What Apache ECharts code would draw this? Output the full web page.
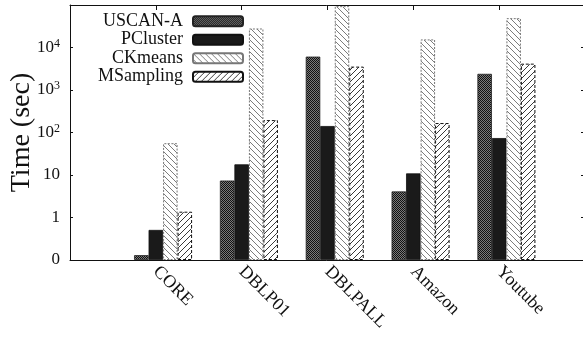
<!DOCTYPE html>
<html><head><meta charset="utf-8">
<script src="https://cdn.jsdelivr.net/npm/echarts@6/dist/echarts.min.js"></script>
<style>html,body{margin:0;padding:0;background:#fff}#c{width:583px;height:338px}</style>
</head><body><div id="c"></div>
<script>
const categories = ['CORE', 'DBLP01', 'DBLPALL', 'Amazon', 'Youtube'];
const uscanA    = [0.13, 7.4, 6100, 4.1, 2400];
const pcluster  = [0.51, 17.8, 142, 10.9, 74];
const ckmeans   = [56, 28000, 94000, 15500, 49000];
const msampling = [1.37, 196, 3550, 167, 4170];
const seriesNames = ['USCAN-A', 'PCluster', 'CKmeans', 'MSampling'];
const yTickLabels = {'-1': '0', '0': '1', '1': '10', '2': '{b|10}{s|2}', '3': '{b|10}{s|3}', '4': '{b|10}{s|4}', '5': ''};

function tile(size, draw) {
  const c = document.createElement('canvas');
  c.width = size; c.height = size;
  const g = c.getContext('2d');
  g.fillStyle = '#fff'; g.fillRect(0, 0, size, size);
  draw(g, size);
  return {image: c, repeat: 'repeat'};
}
const patU = tile(2, (g) => {
  g.fillStyle = '#111'; g.fillRect(0, 0, 1, 1); g.fillRect(1, 1, 1, 1);
  g.fillStyle = '#7a7a7a'; g.fillRect(1, 0, 1, 1); g.fillRect(0, 1, 1, 1);
});
const patC = tile(6, (g, s) => {
  g.strokeStyle = '#7c7c7c'; g.lineWidth = 1;
  g.beginPath(); g.moveTo(-1, -1); g.lineTo(s + 1, s + 1); g.stroke();
});
const patM = tile(6, (g, s) => {
  g.strokeStyle = '#222'; g.lineWidth = 0.9;
  g.beginPath(); g.moveTo(-1, s + 1); g.lineTo(s + 1, -1); g.stroke();
});

const axisCats = [''].concat(categories, ['']);
const pad = (arr) => ['-'].concat(arr, ['-']);
const serif = 'Liberation Serif';

const chart = echarts.init(document.getElementById('c'), null, {renderer: 'canvas'});
chart.setOption({
  animation: false,
  grid: {left: 70, right: -2, top: 5, bottom: 78, containLabel: false, outerBoundsMode: 'none'},
  legend: {
    data: seriesNames, orient: 'vertical', left: 90, top: 7, itemGap: 0,
    align: 'right', itemWidth: 50, itemHeight: 10, selectedMode: false,
    textStyle: {fontFamily: serif, fontSize: 18, color: '#111', width: 88, align: 'right', padding: [0, 5, 0, 0], lineHeight: 18.5}
  },
  xAxis: [{
    type: 'category', data: axisCats, boundaryGap: false, position: 'bottom',
    axisLine: {lineStyle: {color: '#111', width: 1}}, axisTick: {show: false},
    axisLabel: {rotate: -45, margin: 9, fontFamily: serif, fontSize: 18, color: '#111', interval: 0}
  }, {
    type: 'category', data: axisCats, boundaryGap: false, position: 'top',
    axisLine: {lineStyle: {color: '#111', width: 1}},
    axisTick: {show: true, inside: true, length: 5, interval: 0, lineStyle: {color: '#111'}},
    axisLabel: {show: false}
  }],
  yAxis: [{
    type: 'log', logBase: 10, min: 0.1, max: 100000, startValue: 0.1, splitNumber: 6,
    name: 'Time (sec)', nameLocation: 'middle', nameGap: 34, nameMoveOverlap: false,
    nameTextStyle: {fontFamily: serif, fontSize: 28, color: '#111'},
    axisLine: {show: true, lineStyle: {color: '#111', width: 1}},
    axisTick: {show: true, inside: true, length: 3, lineStyle: {color: '#111'}},
    splitLine: {show: false},
    axisLabel: {
      margin: 10, fontFamily: serif, fontSize: 17, color: '#111',
      formatter: (v) => yTickLabels[String(Math.round(Math.log10(v)))],
      rich: {b: {fontFamily: serif, fontSize: 17, color: '#111'}, s: {fontFamily: serif, fontSize: 12, color: '#111', verticalAlign: 'top', padding: [0, 0, 8, 0]}}
    }
  }, {
    type: 'log', logBase: 10, min: 0.1, max: 100000, splitNumber: 6, position: 'right',
    axisLine: {show: true, lineStyle: {color: '#111'}},
    axisTick: {show: true, inside: true, length: 4, lineStyle: {color: '#111'}},
    splitLine: {show: false}, axisLabel: {show: false}
  }],
  series: [
    {name: 'spacer', type: 'bar', barWidth: 14.5, barGap: '0%', data: pad([null, null, null, null, null]), itemStyle: {color: 'transparent'}},
    {name: seriesNames[0], type: 'bar', barWidth: 14.5, barGap: '0%', data: pad(uscanA),
     itemStyle: {color: patU, borderColor: '#222', borderWidth: 0.8}},
    {name: seriesNames[1], type: 'bar', barWidth: 14.5, barGap: '0%', data: pad(pcluster),
     itemStyle: {color: '#1a1a1a', borderColor: '#111', borderWidth: 0.8}},
    {name: seriesNames[2], type: 'bar', barWidth: 14.5, barGap: '0%', data: pad(ckmeans),
     itemStyle: {color: patC, borderColor: '#777', borderWidth: 1, borderType: [2, 1.5]}},
    {name: seriesNames[3], type: 'bar', barWidth: 14.5, barGap: '0%', data: pad(msampling),
     itemStyle: {color: patM, borderColor: '#111', borderWidth: 1, borderType: [3, 2]}}
  ]
});
</script></body></html>
